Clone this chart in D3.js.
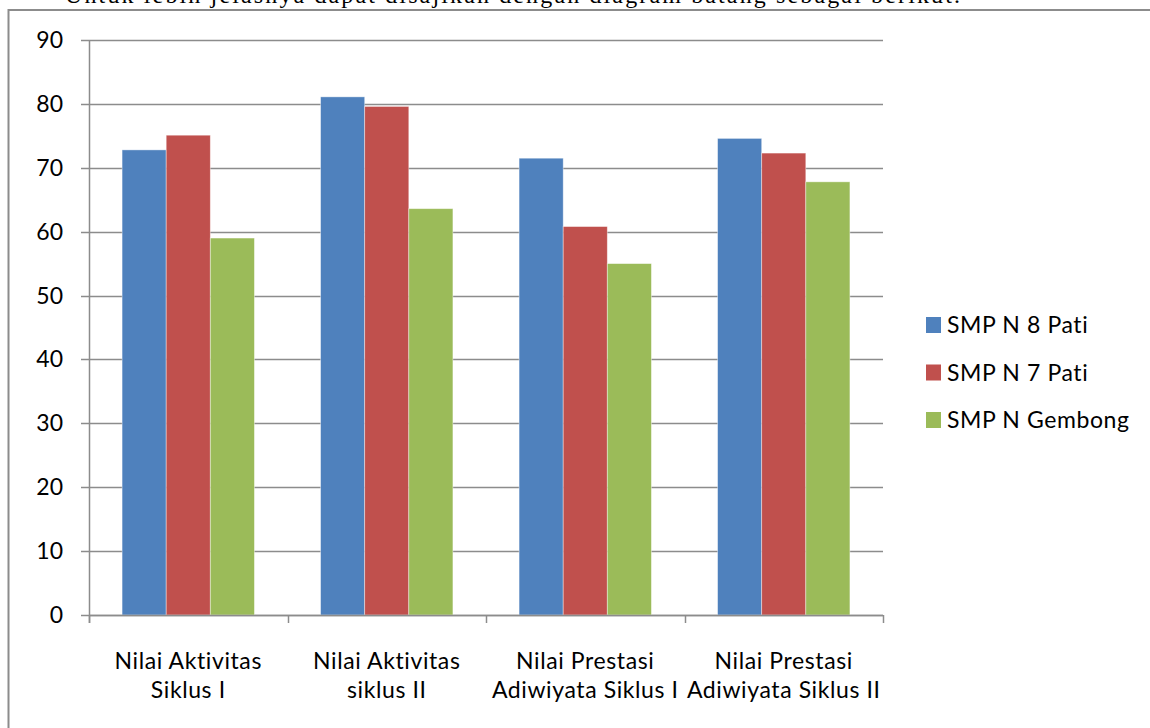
<!DOCTYPE html>
<html>
<head>
<meta charset="utf-8">
<script src="https://cdn.jsdelivr.net/npm/d3@7"></script>
<style>
  body { margin: 0; background: #fff; }
  svg { display: block; }
  text { font-variant-ligatures: none; }
</style>
</head>
<body>
<div id="chart"></div>
<script>
// data
var categories = [
  ["Nilai Aktivitas", "Siklus I"],
  ["Nilai Aktivitas", "siklus II"],
  ["Nilai Prestasi", "Adiwiyata Siklus I"],
  ["Nilai Prestasi", "Adiwiyata Siklus II"]
];
var seriesNames = ["SMP N 8 Pati", "SMP N 7 Pati", "SMP N Gembong"];
var smp8 = [72.8, 81.1, 71.5, 74.6];
var smp7 = [75.1, 79.6, 60.8, 72.3];
var gembong = [59.0, 63.6, 55.0, 67.8];
var yTicks = [0, 10, 20, 30, 40, 50, 60, 70, 80, 90];

var colors = ["#4F81BD", "#C0504D", "#9BBB59"];
var series = [smp8, smp7, gembong];

var W = 1150, H = 728;
var margin = { top: 40, left: 89, right: 267, bottom: 113 };
var width = W - margin.left - margin.right,
    height = H - margin.top - margin.bottom;
var font = "Lato, 'Open Sans', sans-serif";
var fs = 23;

var svg = d3.select("#chart").append("svg")
    .attr("width", W)
    .attr("height", H);

// text above the chart box (cut off in the original)
svg.append("text")
    .attr("x", 65)
    .attr("y", 3)
    .attr("font-family", "'Liberation Serif', 'Times New Roman', serif")
    .attr("font-size", 24)
    .attr("textLength", 895)
    .attr("lengthAdjust", "spacing")
    .attr("fill", "#000")
    .text("Untuk lebih jelasnya dapat disajikan dengan diagram batang sebagai berikut.");

// outer chart border
svg.append("rect")
    .attr("x", 8.5)
    .attr("y", 10)
    .attr("width", 1160)
    .attr("height", 740)
    .attr("fill", "none")
    .attr("stroke", "#8c8c8c")
    .attr("stroke-width", 2);

var g = svg.append("g")
    .attr("transform", "translate(" + margin.left + "," + margin.top + ")");

var x0 = d3.scaleBand()
    .domain(d3.range(categories.length))
    .range([0, width])
    .padding(0);

// excel gap width 150%: bar = band / 4.5
var x1 = d3.scaleBand()
    .domain(d3.range(seriesNames.length))
    .range([0, x0.bandwidth()])
    .paddingInner(0)
    .paddingOuter(0.75);

var y = d3.scaleLinear()
    .domain([0, 90])
    .range([height, 0]);

// gridlines
g.append("g")
    .selectAll("line")
    .data(yTicks)
    .enter()
    .append("line")
    .attr("x1", -8)
    .attr("x2", width)
    .attr("y1", function (d) { return Math.round(y(d)) + 0.5 })
    .attr("y2", function (d) { return Math.round(y(d)) + 0.5 })
    .attr("stroke", "#8c8c8c")
    .attr("stroke-width", 1.5);

// y labels
g.append("g")
    .selectAll("text")
    .data(yTicks)
    .enter()
    .append("text")
    .attr("x", -26)
    .attr("y", function (d) { return y(d) })
    .attr("dy", "0.35em")
    .attr("text-anchor", "end")
    .attr("font-family", font)
    .attr("font-size", fs)
    .attr("fill", "#000")
    .text(function (d) { return d });

// bars
series.forEach(function (vals, si) {
    g.append("g")
        .selectAll("rect")
        .data(vals)
        .enter()
        .append("rect")
        .attr("x", function (d, i) { return x0(i) + x1(si) })
        .attr("y", function (d) { return y(d) })
        .attr("width", x1.bandwidth())
        .attr("height", function (d) { return y(0) - y(d) })
        .attr("fill", colors[si])
        .attr("stroke", "#fff")
        .attr("stroke-opacity", 0.5)
        .attr("stroke-width", 0.8);
});

// axes lines
g.append("line")
    .attr("x1", 0.5).attr("x2", 0.5)
    .attr("y1", 0).attr("y2", height + 8)
    .attr("stroke", "#8c8c8c").attr("stroke-width", 1.5);
g.append("line")
    .attr("x1", 0).attr("x2", width)
    .attr("y1", height + 0.5).attr("y2", height + 0.5)
    .attr("stroke", "#8c8c8c").attr("stroke-width", 1.5);

// category separators
g.append("g")
    .selectAll("line")
    .data(d3.range(categories.length + 1))
    .enter()
    .append("line")
    .attr("x1", function (d) { return Math.round(d * x0.step()) + 0.5 })
    .attr("x2", function (d) { return Math.round(d * x0.step()) + 0.5 })
    .attr("y1", height)
    .attr("y2", height + 8)
    .attr("stroke", "#8c8c8c")
    .attr("stroke-width", 1.5);

// category labels
var cat = g.append("g")
    .selectAll("text")
    .data(categories)
    .enter()
    .append("text")
    .attr("x", function (d, i) { return x0(i) + x0.bandwidth() / 2 })
    .attr("y", height + 54)
    .attr("text-anchor", "middle")
    .attr("font-family", font)
    .attr("font-size", fs)
    .attr("letter-spacing", 0.6)
    .attr("fill", "#000");
cat.each(function (d) {
    var t = d3.select(this);
    d.forEach(function (line, li) {
        t.append("tspan")
            .attr("x", t.attr("x"))
            .attr("dy", li === 0 ? 0 : 29)
            .text(line);
    });
});

// legend
var legend = svg.append("g")
    .selectAll("g")
    .data(seriesNames)
    .enter()
    .append("g")
    .attr("transform", function (d, i) { return "translate(926," + (325 + i * 47.5) + ")" });
legend.append("rect")
    .attr("x", 0)
    .attr("y", -8)
    .attr("width", 15)
    .attr("height", 16)
    .attr("fill", function (d, i) { return colors[i] });
legend.append("text")
    .attr("x", 21)
    .attr("y", 0)
    .attr("dy", "0.35em")
    .attr("font-family", font)
    .attr("font-size", fs)
    .attr("letter-spacing", 0.6)
    .attr("fill", "#000")
    .text(function (d) { return d });
</script>
</body>
</html>
